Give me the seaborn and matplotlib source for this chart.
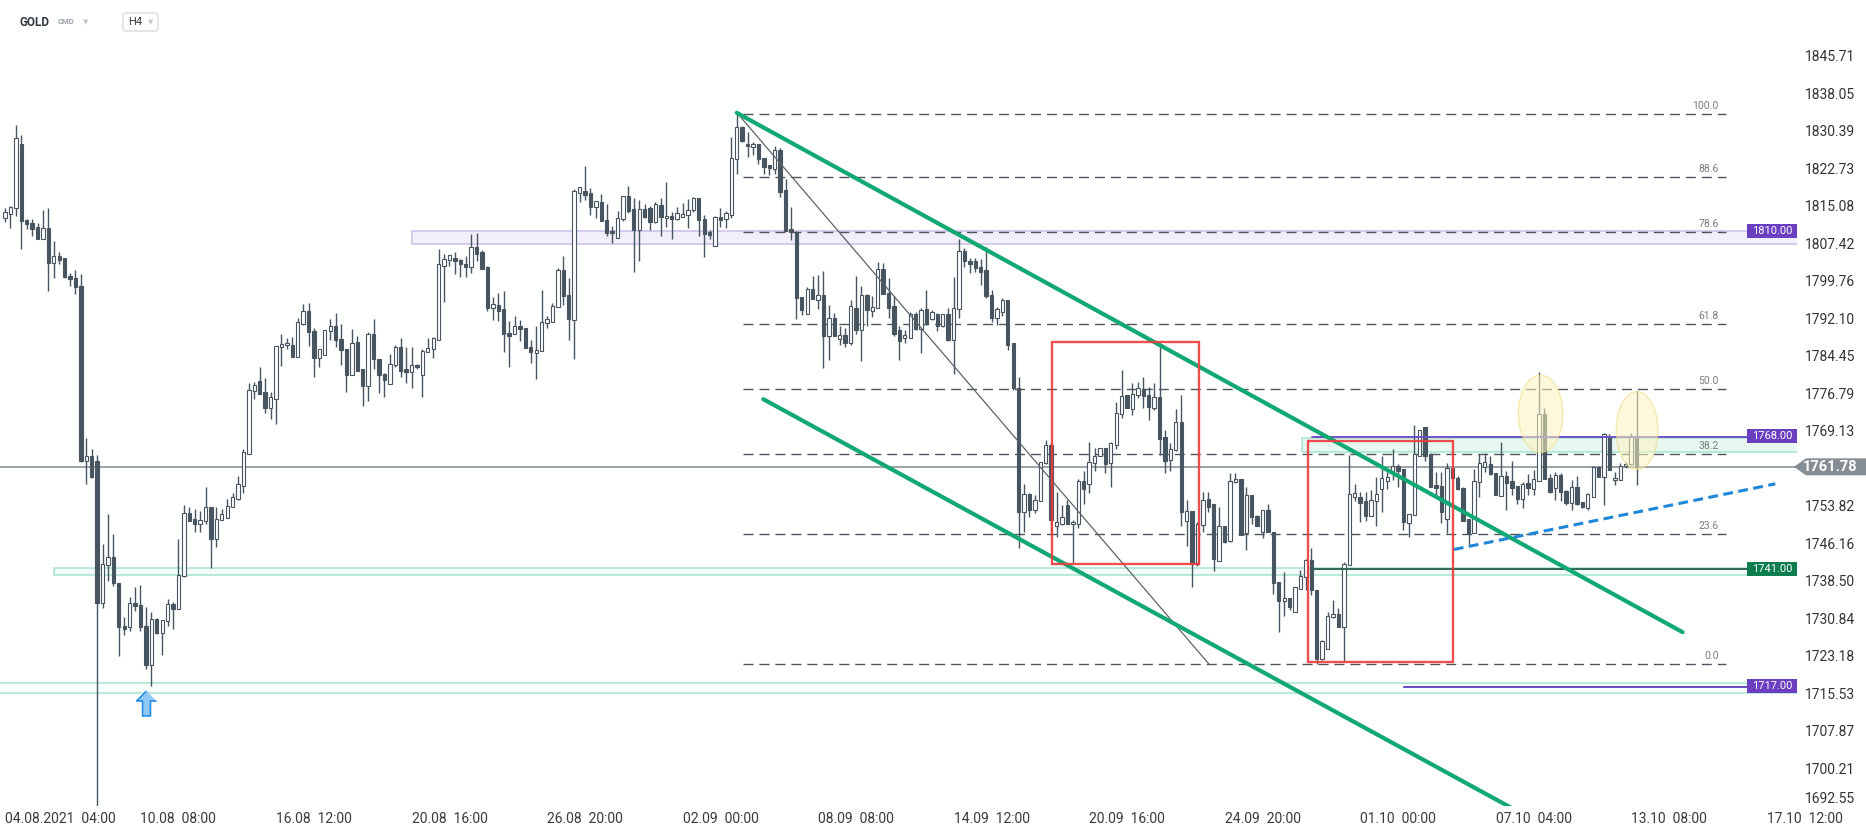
import numpy as np
import matplotlib
matplotlib.use("Agg")
import matplotlib.pyplot as plt
import matplotlib.transforms as mtransforms
from matplotlib import font_manager
from matplotlib.patches import Rectangle, Ellipse, Polygon, FancyBboxPatch
import seaborn as sns

# GOLD H4 candles, 04.08.2021 04:00 -> 13.10.2021 08:00
opens = [
    1812.6, 1813.4, 1814.6, 1827.7, 1812.2, 1811.5, 1810.7, 1808.3, 1810.5, 1803.5,
    1804.9, 1804.5, 1800.8, 1800.4, 1798.8, 1763.0, 1763.9, 1762.9, 1733.9, 1741.7,
    1743.4, 1738.1, 1729.3, 1729.1, 1734.0, 1733.6, 1729.3, 1721.2, 1730.6, 1727.9,
    1730.3, 1733.8, 1732.7, 1739.4, 1752.4, 1751.2, 1750.1, 1750.8, 1753.5, 1747.0,
    1751.0, 1751.3, 1753.5, 1755.2, 1757.9, 1764.3, 1777.3, 1779.3, 1777.0, 1773.9,
    1775.7, 1786.2, 1786.6, 1786.7, 1784.3, 1790.9, 1793.7, 1789.5, 1784.0, 1784.6,
    1789.5, 1790.5, 1787.8, 1785.8, 1780.5, 1787.3, 1781.8, 1778.3, 1788.9, 1783.9,
    1780.8, 1778.7, 1782.6, 1786.3, 1781.8, 1781.1, 1782.6, 1780.5, 1785.2, 1785.8,
    1787.7, 1802.8, 1804.0, 1804.5, 1804.1, 1803.3, 1802.7, 1806.6, 1805.7, 1802.7,
    1794.2, 1794.8, 1794.1, 1789.1, 1788.9, 1790.5, 1790.1, 1786.3, 1785.0, 1785.4,
    1791.2, 1791.3, 1794.4, 1801.9, 1796.8, 1791.7, 1817.8, 1818.1, 1817.7, 1814.8,
    1815.9, 1812.3, 1810.0, 1808.5, 1812.4, 1817.1, 1814.5, 1810.2, 1814.5, 1814.6,
    1811.8, 1815.3, 1812.7, 1813.1, 1812.4, 1812.9, 1813.2, 1814.2, 1816.7, 1812.4,
    1809.7, 1806.8, 1812.8, 1812.4, 1813.2, 1824.6, 1831.3, 1827.7, 1827.2, 1827.7,
    1824.8, 1823.4, 1822.6, 1826.5, 1818.3, 1810.4, 1809.7, 1796.5, 1793.0, 1798.2,
    1795.8, 1796.9, 1788.5, 1792.2, 1787.9, 1788.7, 1787.1, 1794.3, 1789.7, 1796.8,
    1793.6, 1794.3, 1802.2, 1797.3, 1794.6, 1789.7, 1788.0, 1788.2, 1792.9, 1789.9,
    1794.0, 1791.9, 1793.1, 1790.6, 1793.0, 1787.6, 1794.0, 1805.9, 1803.9, 1803.9,
    1802.7, 1802.0, 1796.9, 1792.1, 1793.5, 1795.9, 1787.0, 1777.8, 1752.6, 1756.2,
    1753.0, 1754.7, 1762.5, 1766.2, 1749.6, 1750.2, 1753.9, 1750.2, 1750.2, 1758.9,
    1758.2, 1762.5, 1764.0, 1765.6, 1762.5, 1766.2, 1772.5, 1776.5, 1773.5, 1776.5,
    1777.6, 1776.5, 1773.9, 1776.0, 1767.8, 1763.2, 1765.2, 1770.9, 1750.8, 1752.8,
    1741.9, 1749.8, 1755.2, 1754.2, 1742.5, 1749.6, 1746.6, 1758.6, 1759.2, 1748.2,
    1756.0, 1751.7, 1748.5, 1753.0, 1748.5, 1738.2, 1734.3, 1734.9, 1732.1, 1736.9,
    1739.3, 1742.7, 1736.6, 1722.5, 1724.5, 1731.0, 1731.7, 1729.0, 1741.7, 1755.7,
    1755.6, 1754.8, 1751.8, 1754.8, 1757.2, 1758.9, 1761.0, 1762.0, 1761.3, 1750.4,
    1752.0, 1764.0, 1769.9, 1764.3, 1758.0, 1757.9, 1751.1, 1761.6, 1759.6, 1757.4,
    1751.1, 1748.2, 1758.6, 1761.8, 1762.4, 1760.6, 1755.9, 1759.9, 1758.9, 1757.9,
    1755.3, 1758.4, 1757.2, 1758.9, 1772.6, 1759.6, 1757.4, 1760.1, 1756.9, 1754.3,
    1757.7, 1754.5, 1753.3, 1755.7, 1761.8, 1759.8, 1768.1, 1759.1, 1759.1, 1761.9,
    1762.3, 1767.6,
]
highs = [
    1814.6, 1815.1, 1831.6, 1829.5, 1812.4, 1812.4, 1811.5, 1814.3, 1814.7, 1808.0,
    1805.6, 1804.5, 1801.3, 1801.9, 1801.2, 1767.6, 1765.4, 1764.2, 1746.1, 1752.1,
    1748.1, 1738.1, 1731.2, 1735.2, 1737.2, 1737.7, 1733.2, 1732.1, 1730.9, 1730.5,
    1734.7, 1734.2, 1747.0, 1753.9, 1753.6, 1753.1, 1752.7, 1757.6, 1753.5, 1753.5,
    1753.2, 1755.2, 1756.5, 1759.9, 1765.4, 1778.9, 1779.2, 1782.2, 1780.0, 1777.1,
    1786.5, 1789.0, 1788.1, 1788.3, 1792.2, 1795.1, 1795.2, 1790.1, 1785.8, 1789.7,
    1792.0, 1793.3, 1790.9, 1785.8, 1789.9, 1788.5, 1781.8, 1789.3, 1792.0, 1783.9,
    1780.9, 1784.8, 1786.7, 1788.1, 1786.3, 1786.3, 1782.8, 1785.9, 1788.2, 1788.3,
    1806.2, 1805.3, 1805.1, 1805.7, 1804.3, 1804.9, 1809.3, 1809.5, 1806.1, 1802.8,
    1796.4, 1797.2, 1797.6, 1791.6, 1792.5, 1791.7, 1790.1, 1787.7, 1790.5, 1798.0,
    1792.5, 1795.2, 1802.5, 1804.9, 1800.4, 1818.5, 1819.0, 1823.2, 1818.7, 1816.0,
    1817.5, 1815.5, 1811.0, 1814.1, 1817.1, 1819.1, 1816.7, 1816.2, 1815.5, 1815.1,
    1815.8, 1816.7, 1819.9, 1813.8, 1814.8, 1815.7, 1816.5, 1816.9, 1816.7, 1813.2,
    1810.2, 1813.0, 1814.7, 1814.0, 1829.2, 1833.8, 1831.5, 1830.1, 1828.2, 1827.8,
    1824.8, 1823.4, 1827.3, 1827.0, 1820.5, 1814.9, 1810.0, 1796.5, 1798.6, 1800.8,
    1800.9, 1801.7, 1794.8, 1793.2, 1790.5, 1790.1, 1795.8, 1800.7, 1798.8, 1797.0,
    1796.6, 1803.7, 1803.5, 1800.3, 1796.6, 1790.6, 1789.7, 1793.5, 1793.5, 1794.2,
    1798.0, 1793.8, 1793.3, 1793.1, 1794.2, 1800.5, 1808.4, 1806.4, 1804.4, 1804.4,
    1804.2, 1806.6, 1797.9, 1794.5, 1796.2, 1795.9, 1787.0, 1780.1, 1758.3, 1756.5,
    1756.0, 1762.8, 1767.3, 1766.7, 1756.6, 1754.0, 1755.0, 1751.0, 1759.2, 1760.9,
    1766.8, 1765.6, 1765.7, 1765.7, 1766.8, 1775.1, 1781.6, 1776.5, 1779.0, 1779.2,
    1780.1, 1778.0, 1779.0, 1787.0, 1769.3, 1766.6, 1773.6, 1776.4, 1755.1, 1752.8,
    1750.5, 1756.7, 1756.6, 1754.2, 1753.5, 1749.6, 1760.6, 1760.6, 1759.2, 1757.6,
    1756.0, 1751.9, 1753.0, 1754.2, 1748.5, 1738.2, 1740.2, 1734.9, 1737.3, 1740.8,
    1742.9, 1745.2, 1736.6, 1726.4, 1732.2, 1734.6, 1732.9, 1742.4, 1764.1, 1758.3,
    1756.6, 1756.7, 1757.0, 1759.8, 1764.0, 1760.8, 1765.4, 1762.4, 1761.3, 1752.1,
    1770.3, 1769.4, 1770.0, 1764.7, 1760.8, 1760.8, 1762.6, 1761.6, 1759.9, 1757.7,
    1751.1, 1761.3, 1764.3, 1764.7, 1764.0, 1760.6, 1766.9, 1761.0, 1763.0, 1757.9,
    1758.7, 1760.3, 1761.1, 1781.1, 1773.9, 1760.3, 1760.7, 1760.5, 1757.1, 1759.1,
    1760.0, 1754.5, 1756.4, 1761.9, 1761.9, 1768.6, 1768.4, 1760.8, 1762.6, 1762.8,
    1768.6, 1777.3,
]
lows = [
    1811.8, 1810.6, 1813.0, 1806.3, 1810.4, 1808.9, 1808.3, 1808.3, 1797.6, 1800.4,
    1803.2, 1800.3, 1798.8, 1797.0, 1762.8, 1758.2, 1759.5, 1680.0, 1733.0, 1738.5,
    1737.4, 1723.2, 1727.5, 1728.3, 1732.3, 1728.2, 1720.4, 1717.1, 1727.7, 1723.4,
    1729.3, 1728.7, 1732.7, 1739.3, 1750.8, 1748.5, 1748.5, 1750.1, 1741.1, 1745.3,
    1751.0, 1751.3, 1753.5, 1755.1, 1756.5, 1764.3, 1775.7, 1776.7, 1772.7, 1771.6,
    1770.5, 1782.4, 1785.8, 1784.2, 1784.3, 1790.7, 1786.4, 1780.2, 1782.2, 1784.6,
    1787.6, 1786.2, 1782.6, 1777.1, 1780.5, 1781.3, 1774.3, 1775.3, 1781.8, 1776.9,
    1776.1, 1778.7, 1782.2, 1780.2, 1779.0, 1777.9, 1781.8, 1776.1, 1785.2, 1784.0,
    1787.7, 1795.4, 1802.9, 1801.1, 1800.6, 1800.5, 1801.3, 1803.9, 1802.1, 1793.7,
    1791.7, 1791.5, 1785.2, 1782.2, 1788.9, 1787.4, 1786.0, 1783.0, 1779.8, 1785.4,
    1790.1, 1791.3, 1794.4, 1794.8, 1787.6, 1783.9, 1815.9, 1816.3, 1813.2, 1812.6,
    1812.0, 1809.0, 1807.6, 1808.5, 1812.0, 1813.6, 1801.5, 1803.9, 1812.6, 1810.2,
    1811.6, 1809.0, 1810.8, 1808.4, 1812.3, 1812.8, 1810.6, 1813.8, 1809.0, 1804.7,
    1808.4, 1806.8, 1810.8, 1810.6, 1812.6, 1821.7, 1828.1, 1825.0, 1825.4, 1823.6,
    1821.7, 1821.3, 1821.7, 1816.9, 1810.0, 1808.2, 1792.0, 1792.8, 1793.0, 1796.0,
    1794.0, 1782.0, 1783.6, 1788.5, 1786.7, 1786.3, 1786.7, 1788.9, 1783.5, 1790.5,
    1792.3, 1794.3, 1797.0, 1792.2, 1788.5, 1783.6, 1787.0, 1788.0, 1789.7, 1785.1,
    1790.8, 1791.8, 1789.6, 1790.4, 1787.4, 1780.7, 1792.1, 1802.7, 1801.3, 1801.6,
    1798.9, 1796.2, 1791.4, 1790.8, 1792.5, 1785.7, 1777.5, 1745.1, 1748.5, 1751.5,
    1752.3, 1754.7, 1762.3, 1748.2, 1747.5, 1749.9, 1750.1, 1742.1, 1749.2, 1754.1,
    1756.4, 1760.9, 1763.9, 1760.6, 1757.7, 1765.4, 1771.7, 1773.9, 1772.4, 1775.8,
    1773.7, 1771.3, 1773.4, 1764.2, 1760.6, 1761.0, 1765.1, 1749.6, 1745.7, 1737.3,
    1741.5, 1748.5, 1752.5, 1740.4, 1742.5, 1746.2, 1746.4, 1758.4, 1747.9, 1744.8,
    1750.2, 1749.6, 1747.2, 1748.4, 1735.7, 1728.0, 1731.3, 1732.5, 1732.1, 1736.8,
    1736.6, 1735.6, 1721.6, 1722.3, 1724.5, 1730.8, 1729.0, 1722.2, 1741.7, 1754.9,
    1750.6, 1750.8, 1751.8, 1749.6, 1752.6, 1757.2, 1759.1, 1757.7, 1748.9, 1747.5,
    1752.0, 1764.0, 1763.0, 1757.7, 1755.4, 1750.4, 1748.2, 1759.6, 1757.1, 1750.8,
    1745.7, 1748.2, 1755.7, 1760.8, 1760.1, 1756.0, 1755.9, 1752.9, 1756.0, 1754.2,
    1753.3, 1756.0, 1756.0, 1758.9, 1759.2, 1756.5, 1755.0, 1754.7, 1754.0, 1752.9,
    1754.0, 1753.3, 1752.9, 1755.7, 1759.8, 1753.9, 1761.1, 1758.1, 1759.1, 1761.6,
    1762.2, 1758.1,
]
closes = [
    1813.8, 1814.8, 1829.0, 1812.0, 1811.4, 1810.4, 1808.3, 1810.5, 1803.5, 1804.8,
    1804.0, 1800.5, 1800.1, 1798.5, 1762.9, 1763.9, 1759.7, 1733.9, 1742.0, 1743.4,
    1738.1, 1729.1, 1728.7, 1734.0, 1733.4, 1729.1, 1721.2, 1730.7, 1727.9, 1730.5,
    1733.8, 1732.7, 1739.6, 1752.4, 1750.8, 1750.1, 1751.0, 1753.5, 1747.0, 1751.2,
    1752.2, 1753.7, 1755.7, 1758.2, 1764.8, 1777.4, 1778.5, 1776.7, 1773.9, 1776.0,
    1786.5, 1786.9, 1787.1, 1784.3, 1791.3, 1793.7, 1789.3, 1784.0, 1785.8, 1789.7,
    1790.5, 1787.6, 1785.6, 1780.5, 1787.0, 1781.3, 1778.3, 1788.9, 1783.8, 1780.5,
    1779.6, 1782.8, 1786.3, 1781.3, 1781.1, 1782.6, 1782.2, 1785.5, 1786.0, 1788.1,
    1803.3, 1804.2, 1805.1, 1803.9, 1803.2, 1802.7, 1806.6, 1805.3, 1802.1, 1794.2,
    1795.0, 1793.7, 1788.9, 1788.6, 1790.5, 1789.9, 1786.0, 1785.2, 1785.6, 1791.3,
    1792.0, 1794.7, 1801.9, 1796.6, 1791.9, 1818.1, 1819.0, 1817.4, 1814.8, 1816.0,
    1812.0, 1809.6, 1809.6, 1812.7, 1817.1, 1814.1, 1810.2, 1814.5, 1812.8, 1811.8,
    1815.4, 1812.8, 1813.1, 1812.4, 1813.6, 1813.5, 1814.3, 1816.7, 1812.3, 1809.4,
    1809.2, 1812.8, 1812.3, 1813.6, 1824.9, 1831.3, 1828.4, 1827.3, 1827.7, 1824.6,
    1823.0, 1822.8, 1826.5, 1817.9, 1810.0, 1809.8, 1796.2, 1793.8, 1798.2, 1796.0,
    1796.9, 1788.5, 1792.2, 1788.5, 1788.7, 1787.1, 1794.6, 1789.7, 1796.8, 1793.8,
    1794.4, 1802.2, 1797.0, 1794.3, 1788.9, 1787.4, 1788.7, 1792.9, 1789.9, 1793.8,
    1790.9, 1793.5, 1790.6, 1793.0, 1787.6, 1794.2, 1805.9, 1803.9, 1803.2, 1802.5,
    1801.6, 1796.7, 1792.1, 1794.0, 1795.9, 1786.7, 1777.8, 1752.6, 1756.2, 1753.0,
    1755.0, 1762.7, 1766.2, 1750.9, 1750.6, 1751.5, 1750.2, 1750.6, 1758.9, 1757.2,
    1762.7, 1763.9, 1765.6, 1762.3, 1766.6, 1772.7, 1776.3, 1773.9, 1776.6, 1777.8,
    1776.3, 1774.1, 1776.0, 1767.4, 1763.0, 1765.4, 1770.9, 1752.6, 1752.8, 1741.9,
    1750.1, 1755.0, 1753.6, 1742.9, 1749.6, 1746.4, 1758.9, 1759.2, 1747.9, 1756.0,
    1751.5, 1749.6, 1753.0, 1748.4, 1738.1, 1734.3, 1734.9, 1733.2, 1737.2, 1739.5,
    1742.7, 1736.6, 1722.5, 1726.1, 1731.3, 1731.7, 1729.0, 1741.9, 1756.2, 1756.4,
    1754.3, 1751.8, 1755.0, 1756.2, 1759.4, 1759.8, 1762.0, 1761.0, 1750.6, 1752.1,
    1764.3, 1769.4, 1764.0, 1757.7, 1757.4, 1752.6, 1761.6, 1759.6, 1757.2, 1750.8,
    1748.2, 1758.9, 1762.5, 1762.7, 1760.3, 1756.1, 1759.9, 1758.5, 1757.5, 1755.2,
    1758.3, 1757.5, 1759.3, 1772.6, 1759.2, 1756.7, 1760.1, 1756.6, 1754.3, 1757.7,
    1754.2, 1753.5, 1756.2, 1761.8, 1759.8, 1768.4, 1761.1, 1759.6, 1762.0, 1762.3,
    1767.9, 1761.8,
]

# time axis: one label every 25 bars
date_labels = ["04.08.2021  04:00", "10.08  08:00", "16.08  12:00", "20.08  16:00",
               "26.08  20:00", "02.09  00:00", "08.09  08:00", "14.09  12:00",
               "20.09  16:00", "24.09  20:00", "01.10  00:00", "07.10  04:00",
               "13.10  08:00", "17.10  12:00"]
bars_per_label = 25

price_ticks = [1692.55, 1700.21, 1707.87, 1715.53, 1723.18, 1730.84, 1738.50,
               1746.16, 1753.82, 1769.13, 1776.79, 1784.45, 1792.10, 1799.76,
               1807.42, 1815.08, 1822.73, 1830.39, 1838.05, 1845.71]
last_price = 1761.78

# fibonacci retracement of the 02.09 high -> 29.09 low
fib_levels = [0.0, 23.6, 38.2, 50.0, 61.8, 78.6, 88.6, 100.0]
fib_low, fib_high = 1721.5, 1833.9
fib_from, fib_to = 136.2, 317.5

# support / resistance levels with their zones
level_values = [1810.00, 1768.00, 1741.00, 1717.00]
level_colors = ["#6a3fc0", "#6a3fc0", "#0c7d4f", "#6a3fc0"]
zone_low = [1807.4, 1764.9, 1739.6, 1715.6]
zone_high = [1810.0, 1767.6, 1741.2, 1717.6]
zone_start = [75.1, 239.2, 9.0, -3.0]
zone_fill = ["#f2eefb", "#e7f8f1", "#f3fcf8", "#f7fdfb"]
zone_edge = ["#cbbfe8", "#a6e4cf", "#a6e4cf", "#a6e4cf"]
level_line_start = [None, 241.1, 241.3, 258.1]
level_line_color = [None, "#6f52c8", "#2f6655", "#6a4bc4"]

# drawings
channel_upper = ([135.0, 309.5], [1834.1, 1728.0])
channel_lower = ([139.9, 281.4], [1775.6, 1690.0])
trend_thin = ([135.2, 222.1], [1833.9, 1721.5])
trend_blue = ([267.3, 326.6], [1744.9, 1758.3])
boxes = [(193.2, 220.2, 1741.9, 1787.2), (240.3, 267.2, 1721.9, 1767.1)]
ellipses = [(283.3, 1772.6, 8.2, 15.8), (301.1, 1769.2, 7.7, 15.9)]
arrow_at = (26.1, 1713.6)

sns.set_theme(style="white")
names = {f.name for f in font_manager.fontManager.ttflist}
narrow = "Liberation Sans Narrow" if "Liberation Sans Narrow" in names else "Roboto"
plt.rcParams["font.family"] = [narrow, "DejaVu Sans"]

W, H = 1866, 832
fig = plt.figure(figsize=(W / 100, H / 100), dpi=100)
fig.patch.set_facecolor("white")
ax = fig.add_axes([0, 26 / H, 1797 / W, 806 / H])
ax.set_facecolor("white")
for s in ax.spines.values():
    s.set_visible(False)

# zones
for lo, hi, x0, fc, ec in zip(zone_low, zone_high, zone_start, zone_fill, zone_edge):
    ax.add_patch(Rectangle((x0, lo), 400, hi - lo, facecolor=fc, edgecolor=ec,
                           linewidth=1.1, zorder=1))

# fibonacci
for lvl in fib_levels:
    p = fib_low + lvl / 100 * (fib_high - fib_low)
    ax.plot([fib_from, fib_to], [p, p], color="#4d545c", lw=1.0,
            dashes=(7.2, 4.3), zorder=2)
    ax.annotate(f"{lvl:.1f}", (fib_to - 1.4, p), xytext=(0, 2),
                textcoords="offset points", ha="right", va="bottom",
                fontsize=7.5, color="#777c84", zorder=8)

ax.axhline(last_price, color="#8a9398", lw=1.2, zorder=2.5)

# candles
o = np.array(opens)
h = np.array(highs)
l = np.array(lows)
c = np.array(closes)
x = np.arange(len(o))
dark = "#46555f"
ax.vlines(x, l, h, color=dark, lw=1.0, zorder=3)
up = c >= o
ax.bar(x, np.maximum(np.abs(c - o), 0.18), bottom=np.minimum(o, c), width=0.62,
       color=np.where(up, "white", dark), edgecolor=dark, linewidth=0.8, zorder=4)

# level lines
for v, xs, col in zip(level_values, level_line_start, level_line_color):
    if xs is not None:
        ax.plot([xs, 400], [v - 0.1, v - 0.1], color=col, lw=1.4, zorder=4.5)

# trend lines and channel
sns.lineplot(x=trend_thin[0], y=trend_thin[1], ax=ax, color="#5d6369", linewidth=0.9,
             zorder=4.6)
sns.lineplot(x=channel_upper[0], y=channel_upper[1], ax=ax, color="#12a874",
             linewidth=3.0, zorder=5)
sns.lineplot(x=channel_lower[0], y=channel_lower[1], ax=ax, color="#12a874",
             linewidth=3.0, zorder=5)
ax.plot(trend_blue[0], trend_blue[1], color="#1f87d8", lw=2.2, dashes=(3.2, 1.8),
        zorder=5)

for x0, x1, y0, y1 in boxes:
    ax.add_patch(Rectangle((x0, y0), x1 - x0, y1 - y0, fill=False, edgecolor="#ee3b3b",
                           linewidth=1.7, alpha=0.9, zorder=6))

for cx, cy, ew, eh in ellipses:
    ax.add_patch(Ellipse((cx, cy), ew, eh, facecolor="#fdf4c0", edgecolor="#f0d97a",
                         linewidth=1.0, alpha=0.55, zorder=7))

arrow = [(0, 1), (-0.8, 0.2), (-0.32, 0.2), (-0.32, -1), (0.32, -1), (0.32, 0.2), (0.8, 0.2)]
ax.plot([arrow_at[0]], [arrow_at[1]], marker=arrow, markersize=18,
        markerfacecolor="#90c8f8", markeredgecolor="#1e88e5", markeredgewidth=1.1,
        linestyle="none", zorder=8)

ax.set_xlim(-0.92, 330.6)
ax.set_ylim(1692.49, 1857.15)
ax.set_xlabel("")
ax.set_ylabel("")

# level tags at the right edge of the plot
for v, col in zip(level_values, level_colors):
    ax.add_patch(Rectangle((321.4, v - 1.43), 9.23, 2.86, facecolor=col,
                           edgecolor="none", zorder=9, clip_on=False))
    ax.text(326.0, v, f"{v:.2f}", ha="center", va="center", color="white",
            fontsize=8, zorder=10)

# axes ticks
ax.yaxis.tick_right()
ax.set_yticks(price_ticks)
ax.set_yticklabels([f"{v:.2f}" for v in price_ticks])
ax.tick_params(axis="y", length=0, pad=6, labelsize=10, labelcolor="#333333")
ax.get_yticklabels()[0].set_verticalalignment("bottom")
ax.set_xticks(np.arange(len(date_labels)) * bars_per_label)
ax.set_xticklabels(date_labels, ha="left")
ax.tick_params(axis="x", length=0, pad=4, labelsize=10, labelcolor="#3a3a3a")
ax.grid(False)

# current price tag
ident = mtransforms.IdentityTransform()
yd = ax.transData.transform((0, last_price))[1]
tag = Polygon([(1794, yd), (1806, yd + 8.5), (1866, yd + 8.5), (1866, yd - 8.5),
               (1806, yd - 8.5)], closed=True, facecolor="#858e94", edgecolor="none",
              transform=ident)
fig.add_artist(tag)
fig.text(1830 / W, yd / H, f"{last_price:.2f}", ha="center", va="center",
         color="white", fontsize=10.5, fontweight="bold")

# header
ty = 1 - 22 / H
fig.text(20 / W, ty, "GOLD", fontsize=8.5, fontweight="bold", color="#2f3a44",
         va="center", family=["Roboto", "DejaVu Sans"])
fig.text(58 / W, ty, "CMD", fontsize=5.5, fontweight="bold", color="#9aa1a8",
         va="center", family=["Roboto", "DejaVu Sans"])
fig.text(83 / W, ty, "\u25bc", fontsize=5, color="#c3c7cb", va="center",
         family=["DejaVu Sans"])
fig.add_artist(FancyBboxPatch((123, H - 31), 35, 18,
                              boxstyle="round,pad=0,rounding_size=3",
                              facecolor="white", edgecolor="#d8dbdf", linewidth=1,
                              transform=ident))
fig.text(128 / W, ty, "H4", fontsize=8, color="#333333", va="center",
         family=["Roboto", "DejaVu Sans"])
fig.text(148 / W, ty, "\u25bc", fontsize=5, color="#c3c7cb", va="center",
         family=["DejaVu Sans"])

fig.savefig("out.png", dpi=100)
